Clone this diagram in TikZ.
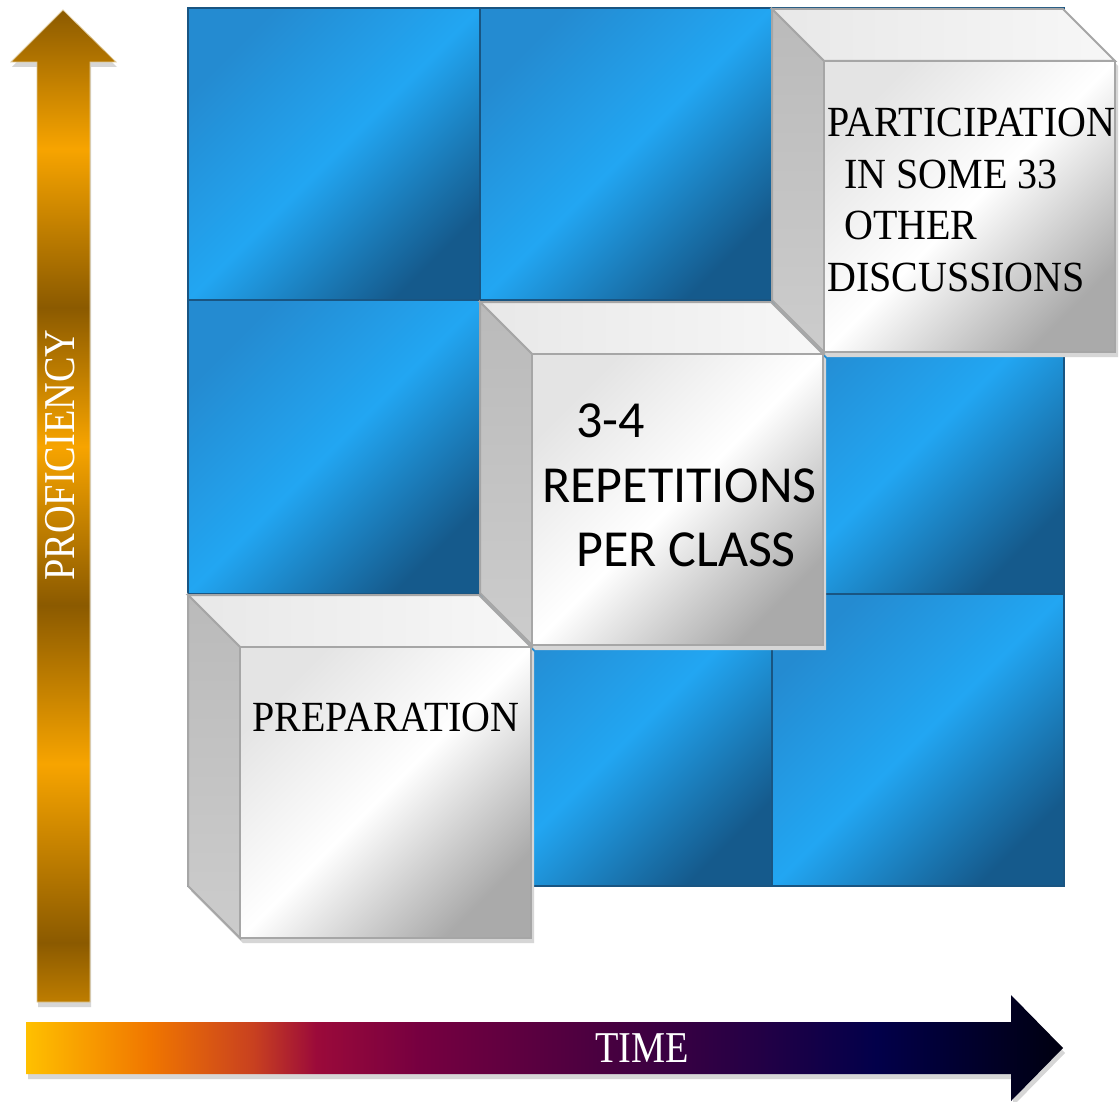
\documentclass[tikz,border=0pt]{standalone}
\usepackage{fontspec}
\usepackage{tikz}
\newfontfamily\narrowserif[FakeStretch=0.87]{Liberation Serif}
\newfontfamily\cubeserif[FakeStretch=0.93]{Liberation Serif}
\newfontfamily\cubesans{Carlito}
\definecolor{tilemid}{RGB}{36, 139, 209}
\definecolor{tilelight}{RGB}{34, 166, 242}
\definecolor{tiledark}{RGB}{21, 90, 140}
\definecolor{tileedge}{RGB}{25, 85, 130}
\definecolor{facelight}{RGB}{228, 228, 228}
\definecolor{facedark}{RGB}{170, 170, 170}
\definecolor{lidlight}{RGB}{232, 232, 232}
\definecolor{lidpale}{RGB}{247, 247, 247}
\definecolor{sidedark}{RGB}{186, 186, 186}
\definecolor{sidelight}{RGB}{204, 204, 204}
\definecolor{cubeedge}{RGB}{166, 166, 166}
\definecolor{shadowgray}{RGB}{214, 214, 214}
\definecolor{golddark}{RGB}{139, 90, 0}
\definecolor{goldmid}{RGB}{190, 125, 0}
\definecolor{goldlight}{RGB}{247, 164, 0}
\definecolor{goldedge}{RGB}{222, 200, 150}
\definecolor{timeyellow}{RGB}{255, 192, 0}
\definecolor{timeorange}{RGB}{240, 118, 0}
\definecolor{timerust}{RGB}{200, 64, 32}
\definecolor{timecrimson}{RGB}{155, 10, 58}
\definecolor{timemaroon}{RGB}{118, 0, 64}
\definecolor{timeplum}{RGB}{72, 0, 64}
\definecolor{timeviolet}{RGB}{37, 0, 69}
\definecolor{timenavy}{RGB}{2, 0, 74}
\definecolor{timeblack}{RGB}{0, 0, 16}
\pgfdeclareverticalshading{goldbands}{100bp}{color(0bp)=(goldmid); color(25bp)=(goldmid);
  color(28bp)=(golddark); color(37bp)=(goldlight); color(45bp)=(golddark); color(53bp)=(goldlight);
  color(60bp)=(golddark); color(68bp)=(goldlight); color(75bp)=(golddark); color(100bp)=(golddark)}
\pgfdeclarehorizontalshading{timebands}{100bp}{color(0bp)=(timeyellow); color(25bp)=(timeyellow);
  color(31bp)=(timeorange); color(36bp)=(timerust); color(39bp)=(timecrimson); color(44bp)=(timemaroon);
  color(53bp)=(timeplum); color(60bp)=(timeviolet); color(66bp)=(timenavy); color(75bp)=(timeblack);
  color(100bp)=(timeblack)}

\begin{document}
\begin{tikzpicture}[x=1pt, y=-1pt,
  tile/.style={top color=tilemid, bottom color=tiledark, middle color=tilelight, shading angle=45, draw=tileedge, line width=1.5pt},
  cubefront/.style={top color=facelight, bottom color=facedark, middle color=white, shading angle=45, draw=cubeedge, line width=2pt},
  cubelid/.style={left color=lidlight, right color=lidpale, draw=cubeedge, line width=2pt},
  cubeside/.style={top color=sidedark, bottom color=sidelight, draw=cubeedge, line width=2pt},
  serifbox/.style={font={\cubeserif\fontsize{43}{51.5}\selectfont}, inner sep=0pt, align=left, anchor=north west},
  sansbox/.style={font={\cubesans\fontsize{52}{64.5}\selectfont}, inner sep=0pt, align=left, anchor=north west},
  arrowtext/.style={font={\narrowserif\fontsize{44}{50}\selectfont}, text=white, inner sep=0pt}]
  \fill[white] (0, 0) rectangle (1119, 1102);
  \useasboundingbox (0, 0) rectangle (1119, 1102);

  % blue grid
  \path[tile] (188, 8) rectangle (480, 300);
  \path[tile] (480, 8) rectangle (772, 300);
  \path[tile] (772, 8) rectangle (1064, 300);
  \path[tile] (188, 300) rectangle (480, 594);
  \path[tile] (480, 300) rectangle (772, 594);
  \path[tile] (772, 300) rectangle (1064, 594);
  \path[tile] (188, 594) rectangle (480, 886);
  \path[tile] (480, 594) rectangle (772, 886);
  \path[tile] (772, 594) rectangle (1064, 886);

  % top right cube
  \fill[shadowgray, shift={(3, 5)}] (772, 9) -- ++(291, 0) -- ++(52, 52) -- ++(0, 291) -- ++(-291, 0) -- ++(-52, -52) -- cycle;
  \path[cubelid] (772, 9) -- ++(291, 0) -- ++(52, 52) -- ++(-291, 0) -- cycle;
  \path[cubeside] (772, 9) -- ++(52, 52) -- ++(0, 291) -- ++(-52, -52) -- cycle;
  \path[cubefront] (824, 61) rectangle ++(291, 291);

  % middle cube
  \fill[shadowgray, shift={(3, 5)}] (480, 302) -- ++(291, 0) -- ++(52, 52) -- ++(0, 291) -- ++(-291, 0) -- ++(-52, -52) -- cycle;
  \path[cubelid] (480, 302) -- ++(291, 0) -- ++(52, 52) -- ++(-291, 0) -- cycle;
  \path[cubeside] (480, 302) -- ++(52, 52) -- ++(0, 291) -- ++(-52, -52) -- cycle;
  \path[cubefront] (532, 354) rectangle ++(291, 291);

  % bottom left cube
  \fill[shadowgray, shift={(3, 5)}] (188, 595) -- ++(291, 0) -- ++(52, 52) -- ++(0, 291) -- ++(-291, 0) -- ++(-52, -52) -- cycle;
  \path[cubelid] (188, 595) -- ++(291, 0) -- ++(52, 52) -- ++(-291, 0) -- cycle;
  \path[cubeside] (188, 595) -- ++(52, 52) -- ++(0, 291) -- ++(-52, -52) -- cycle;
  \path[cubefront] (240, 647) rectangle ++(291, 291);

  \node[serifbox] (part) at (827, 108) {PARTICIPATION\\\hspace*{17pt}IN SOME 33\\\hspace*{17pt}OTHER\\DISCUSSIONS};
  \node[sansbox] (reps) at (542, 404) {\hspace*{34pt}3-4\\REPETITIONS\\\hspace*{34pt}PER CLASS};
  \node[serifbox] (prep) at (252, 703) {PREPARATION};

  % proficiency arrow
  \fill[shadowgray, shift={(1, 5)}] (37, 1002) -- (37, 62) -- (11, 62) -- (63, 10) -- (116, 62) -- (90, 62) -- (90, 1002) -- cycle;
  \shade[shading=goldbands, draw=goldedge, line width=0.75pt] (37, 1002) -- (37, 62) -- (11, 62) -- (63, 10) -- (116, 62) -- (90, 62) -- (90, 1002) -- cycle;
  \node[arrowtext, rotate=90] (prof) at (60, 455) {PROFICIENCY};

  % time arrow
  \fill[shadowgray, shift={(2, 5)}] (26, 1022) -- (1011, 1022) -- (1011, 995) -- (1063, 1048) -- (1011, 1101) -- (1011, 1074) -- (26, 1074) -- cycle;
  \shade[shading=timebands] (26, 1022) -- (1011, 1022) -- (1011, 995) -- (1063, 1048) -- (1011, 1101) -- (1011, 1074) -- (26, 1074) -- cycle;
  \node[arrowtext] (time) at (642, 1048) {TIME};
\end{tikzpicture}
\end{document}
